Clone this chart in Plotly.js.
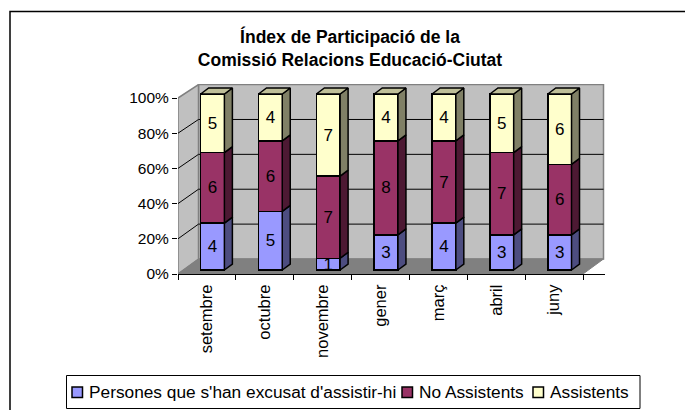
<!DOCTYPE html>
<html>
<head>
<meta charset="utf-8">
<script src="https://cdn.plot.ly/plotly-3.0.1.min.js"></script>
<style>html,body{margin:0;padding:0;background:#fff;overflow:hidden}#c{width:685px;height:410px}</style>
</head>
<body>
<div id="c"></div>
<script>
const months = ['setembre','octubre','novembre','gener','març','abril','juny'];
const excused = [4,5,1,3,4,3,3];
const absent = [6,6,7,8,7,7,6];
const present = [5,4,7,4,4,5,6];
const seriesNames = ["Persones que s'han excusat d'assistir-hi",'No Assistents','Assistents'];
const seriesColors = ['#9999FF','#993366','#FFFFCC'];
const sideColors = ['#4D4D80','#4D1933','#808066'];
const topColor = '#BFBF99';
const yTicks = [0,20,40,60,80,100];
const yTickLabels = ['0%','20%','40%','60%','80%','100%'];
const legendSwatchLeft = [72,402,533];
const legendTextLeft = [88,418,549];

const W=685,H=410,L=178,R=605,T=84,B=274;
const pxX=405/7, pxY=1.76;
const xMin=-0.5, xMax=xMin+(R-L)/pxX, yMax=(B-T)/pxY;
const wallDx=20.5/pxX, wallDy=15/pxY, wallK=0.991;
const backY=v=>wallDy+v*wallK;
const shiftX=5.6/pxX, shiftY=4/pxY;
const sideDx=8/pxX, sideDy=6/pxY, halfBar=0.205;
const n=months.length, xi=months.map((_,i)=>i);
const xEnd=xMin+n;
const paperX=p=>(p-L)/(R-L), paperY=p=>(B-p)/(B-T);

const traces=[];
const poly=(xs,ys,fill,line,w,extra)=>Object.assign({type:'scatter',mode:'lines',x:xs,y:ys,fill:'toself',fillcolor:fill,
  line:{color:line,width:w},hoverinfo:'skip',showlegend:false,cliponaxis:false},extra||{});
traces.push(poly([xMin+wallDx,xEnd+wallDx,xEnd+wallDx,xMin+wallDx,xMin+wallDx],[backY(0),backY(0),backY(100),backY(100),backY(0)],'#C0C0C0','#808080',1.5));
traces.push(poly([xMin,xMin+wallDx,xMin+wallDx,xMin,xMin],[0,backY(0),backY(100),100,0],'#C0C0C0','#808080',1.5));
traces.push(poly([xMin,xEnd,xEnd+wallDx,xMin+wallDx,xMin],[0,0,backY(0),backY(0),0],'#808080','#808080',1));
const gx=[],gy=[];
yTicks.slice(1,-1).forEach(v=>{gx.push(xMin,xMin+wallDx,xEnd+wallDx,null);gy.push(v,backY(v),backY(v),null);});
traces.push({type:'scatter',mode:'lines',x:gx,y:gy,line:{color:'#000',width:1},hoverinfo:'skip',showlegend:false,cliponaxis:false});
traces.push({type:'scatter',mode:'lines',x:[xMin],y:[0],xaxis:'x3',yaxis:'y',line:{width:0},hoverinfo:'skip',showlegend:false});

const series=[excused,absent,present];
series.forEach((vals,s)=>{
  traces.push({type:'bar',x:xi,y:vals,xaxis:'x2',yaxis:'y2',name:seriesNames[s],showlegend:false,
    marker:{color:seriesColors[s],line:{color:'#000',width:1.5}},
    text:vals.map(String),textposition:'inside',insidetextanchor:'middle',textangle:0,constraintext:'none',
    insidetextfont:{color:'#000',size:17},cliponaxis:false,hoverinfo:'skip'});
});
const totals=xi.map(i=>excused[i]+absent[i]+present[i]);
const cum=xi.map(()=>0);
series.forEach((vals,s)=>{
  const sx=[],sy=[],tx=[],ty=[];
  xi.forEach(i=>{
    const lo=cum[i]/totals[i]*100; cum[i]+=vals[i]; const hi=cum[i]/totals[i]*100;
    const a=i+halfBar;
    sx.push(a,a+sideDx,a+sideDx,a,a,null); sy.push(lo,lo+sideDy,hi+sideDy,hi,lo,null);
    if(s===series.length-1){const b=i-halfBar;
      tx.push(b,a,a+sideDx,b+sideDx,b,null); ty.push(hi,hi,hi+sideDy,hi+sideDy,hi,null);}
  });
  traces.push(poly(sx,sy,sideColors[s],'#000',1.5,{xaxis:'x2',yaxis:'y2'}));
  if(tx.length) traces.push(poly(tx,ty,topColor,'#000',1.5,{xaxis:'x2',yaxis:'y2'}));
});

const font='"Liberation Sans", Arial, sans-serif';
const shapes=[
  {type:'rect',xref:'paper',yref:'paper',x0:paperX(10),x1:paperX(W+20),y0:paperY(H+20),y1:paperY(11.5),line:{color:'#000',width:1.5},fillcolor:'rgba(0,0,0,0)',layer:'below'},
  {type:'rect',xref:'paper',yref:'paper',x0:paperX(66.5),x1:paperX(640),y0:paperY(408.5),y1:paperY(375.5),line:{color:'#000',width:1},fillcolor:'#fff',layer:'below'}
];
const annotations=[];
seriesNames.forEach((name,s)=>{
  const cy=392;
  shapes.push({type:'rect',xref:'paper',yref:'paper',x0:paperX(legendSwatchLeft[s]),x1:paperX(legendSwatchLeft[s]+10.5),y0:paperY(cy+5.5),y1:paperY(cy-5),
    line:{color:'#000',width:1.5},fillcolor:seriesColors[s]});
  annotations.push({xref:'paper',yref:'paper',x:paperX(legendTextLeft[s]),y:paperY(cy),xanchor:'left',yanchor:'middle',text:name,showarrow:false,borderpad:0,
    font:{size:17.3,family:font,color:'#000'}});
});
const layout={
  width:W,height:H,autosize:false,paper_bgcolor:'#fff',plot_bgcolor:'rgba(0,0,0,0)',
  margin:{l:L,r:W-R,t:T,b:H-B,pad:0},font:{family:font,color:'#000',size:15},
  barmode:'stack',barnorm:'percent',bargap:0.59,showlegend:false,
  title:{text:'Índex de Participació de la<br>Comissió Relacions Educació-Ciutat',font:{family:font,size:17.5,weight:700,color:'#000'},
    x:350/W,xanchor:'center',y:1-43/H,yanchor:'top',xref:'container',yref:'container'},
  xaxis:{type:'linear',range:[xMin,xMax],tickmode:'array',tickvals:xi,ticktext:months,tickangle:-90,ticks:'',showgrid:false,zeroline:false,
    showline:true,linecolor:'#000',linewidth:1,tickfont:{size:16.5,family:font},ticklabelstandoff:3,automargin:false},
  xaxis2:{overlaying:'x',anchor:'y2',range:[xMin-shiftX,xMax-shiftX],visible:false},
  xaxis3:{overlaying:'x',anchor:'y',range:[xMin,xMax],tickmode:'array',tickvals:Array.from({length:n+1},(_,i)=>xMin+i),
    ticks:'outside',ticklen:5,tickwidth:1,tickcolor:'#000',showticklabels:false,showgrid:false,zeroline:false,side:'bottom'},
  yaxis:{range:[0,yMax],tickmode:'array',tickvals:yTicks,ticktext:yTickLabels,ticks:'outside',ticklen:5,tickwidth:1,tickcolor:'#000',
    showgrid:false,zeroline:false,showline:false,tickfont:{size:15.5,family:font},automargin:false},
  yaxis2:{overlaying:'y',anchor:'x2',range:[-shiftY,yMax-shiftY],visible:false},
  shapes,annotations
};
Plotly.newPlot('c',traces,layout,{displayModeBar:false,staticPlot:true});
</script>
</body>
</html>
